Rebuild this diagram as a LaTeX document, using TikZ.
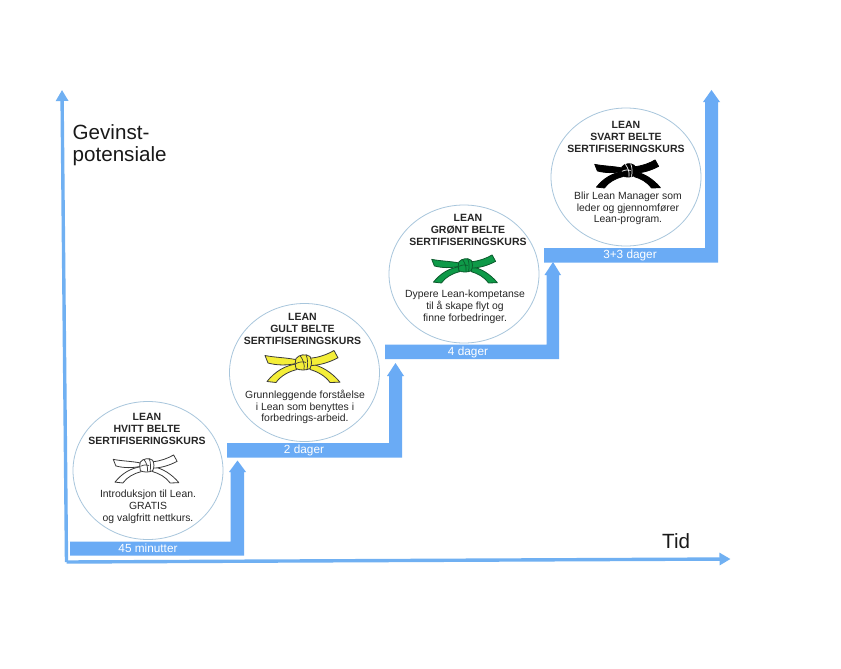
\documentclass[tikz,border=0pt]{standalone}
\usepackage{fontspec}
\setmainfont{Liberation Sans}
\usetikzlibrary{arrows.meta,shapes.geometric}
\definecolor{stepblue}{HTML}{6AABF5}
\definecolor{axisblue}{HTML}{70B0F2}
\definecolor{ringblue}{HTML}{A8C6DC}
\definecolor{beltyellow}{HTML}{F4EE38}
\definecolor{beltgreen}{HTML}{0E9A48}
\definecolor{beltdgreen}{HTML}{0B5A2C}
\definecolor{beltgrey}{HTML}{3A3A3A}
\tikzset{
  ring/.style={draw=ringblue,line width=0.8pt,fill=white,ellipse,minimum width=150pt,minimum height=138pt,inner sep=0pt},
  title/.style={align=center,font=\fontsize{10.5pt}{12pt}\selectfont\bfseries,text=black!85,inner sep=0pt},
  body/.style={align=center,font=\fontsize{10.4pt}{11.7pt}\selectfont,text=black!85,inner sep=0pt},
  steplabel/.style={font=\fontsize{11.8pt}{12pt}\selectfont,text=white,inner sep=0pt},
  axislabel/.style={font=\fontsize{20.6pt}{22pt}\selectfont,text=black!90,align=left,inner sep=0pt},
  stepfill/.style={fill=stepblue,draw=none},
  axis/.style={draw=axisblue,line width=3.4pt,-{Triangle[length=11pt,width=12pt]}},
  pics/belt/.style n args={3}{code={
    \begin{scope}[fill=#1,draw=#2,line width=0.8pt,line join=round]
      % lower tails
      \filldraw (-6,2.3) .. controls (-18,4) and (-28,10) .. (-36,20) -- (-27,21)
        .. controls (-22,14) and (-14,10) .. (-6,8) -- cycle;
      \filldraw (7,2.3) .. controls (18,4) and (29,11) .. (37,20.7) -- (27,21)
        .. controls (22,14) and (14,10) .. (7,8) -- cycle;
      % upper tails
      \filldraw (-7.5,-2) .. controls (-18,-4) and (-28,-4) .. (-38,-6) -- (-35,1.5)
        .. controls (-26,4) and (-16,4) .. (-7,2) -- cycle;
      \filldraw (7,-3.3) .. controls (16,-4) and (24,-7) .. (31,-11) -- (35,-3.7)
        .. controls (26,1) and (16,4) .. (7,4) -- cycle;
      % knot
      \filldraw (-7,-3) .. controls (-4,-7) and (3,-8) .. (7,-5)
        .. controls (9,-1) and (9,3) .. (7,7) .. controls (3,9) and (-3,9) .. (-7,7)
        .. controls (-8,3) and (-8,0) .. (-7,-3) -- cycle;
    \end{scope}
    \begin{scope}[draw=#3,line width=0.7pt]
      \draw (-3,-6) .. controls (0,-2) and (2,3) .. (1,8);
      \draw (3,-7) .. controls (5,-2) and (5,3) .. (4,8);
      \draw (-7,2) .. controls (-3,0) and (1,0) .. (3,1);
    \end{scope}
  }},
}
\begin{document}
\begin{tikzpicture}[x=1pt,y=-1pt]
\useasboundingbox (0,0) rectangle (841,669);
\fill[white] (0,0) rectangle (841,669);

% axes
\coordinate (origin) at (66.5,562);
\coordinate (ytop) at (62,90);
\coordinate (xend) at (730.5,559);
\draw[axis] (origin) -- (ytop);
\draw[axis] (origin) -- (xend);
\node[axislabel,anchor=base west] (gain) at (72.5,161) {Gevinst-\\potensiale};
\node[axislabel,anchor=base west] (time) at (662,548) {Tid};

% steps
\fill[stepfill] (70,541.5) -- (230.7,541.5) -- (230.7,472) -- (229,472) -- (237.5,460.5) -- (246,472) -- (244,472) -- (244,555.5) -- (70,555.5) -- cycle;
\fill[stepfill] (227,443) -- (389,443) -- (389,376) -- (387,376) -- (395.5,363) -- (404,376) -- (402,376) -- (402,457.5) -- (227,457.5) -- cycle;
\fill[stepfill] (385,344.5) -- (546.5,344.5) -- (546.5,275) -- (544.5,275) -- (553,262) -- (561,275) -- (559,275) -- (559,359) -- (385,359) -- cycle;
\fill[stepfill] (544,248) -- (705,248) -- (705,102) -- (703,102) -- (711.5,90) -- (720,102) -- (718,102) -- (718,262.5) -- (544,262.5) -- cycle;

% step labels
\node[steplabel] (l1) at (148,548.5) {45 minutter};
\node[steplabel] (l2) at (304,450.5) {2 dager};
\node[steplabel] (l3) at (468,352.5) {4 dager};
\node[steplabel] (l4) at (630,255.5) {3+3 dager};

% circles
\node[ring] (c1) at (148,470.5) {};
\node[ring] (c2) at (304.5,372.5) {};
\node[ring] (c3) at (464,274) {};
\node[ring] (c4) at (626,177) {};

% belts
\pic[scale=0.875] at (146.5,464.6) {belt={white}{beltgrey}{beltgrey}};
\pic at (303,361.5) {belt={beltyellow}{beltgrey}{beltgrey}};
\pic[scale=0.875] at (465,264.6) {belt={beltgreen}{beltdgreen}{beltdgreen}};
\pic[scale=0.875] at (628,169.6) {belt={black}{black}{white}};

% titles
\node[title] (t1) at (147,429) {LEAN\\HVITT BELTE\\SERTIFISERINGSKURS};
\node[title] (t2) at (302.5,329) {LEAN\\GULT BELTE\\SERTIFISERINGSKURS};
\node[title] (t3) at (468,230) {LEAN\\GRØNT BELTE\\SERTIFISERINGSKURS};
\node[title] (t4) at (626,137) {LEAN\\SVART BELTE\\SERTIFISERINGSKURS};

% bodies
\node[body] (b1) at (148,507) {Introduksjon til Lean.\\GRATIS\\og valgfritt nettkurs.};
\node[body] (b2) at (305,407) {Grunnleggende forståelse\\i Lean som benyttes i\\forbedrings-arbeid.};
\node[body] (b3) at (465,307) {Dypere Lean-kompetanse\\til å skape flyt og\\finne forbedringer.};
\node[body] (b4) at (628,208.5) {Blir Lean Manager som\\leder og gjennomfører\\Lean-program.};
\end{tikzpicture}
\end{document}
